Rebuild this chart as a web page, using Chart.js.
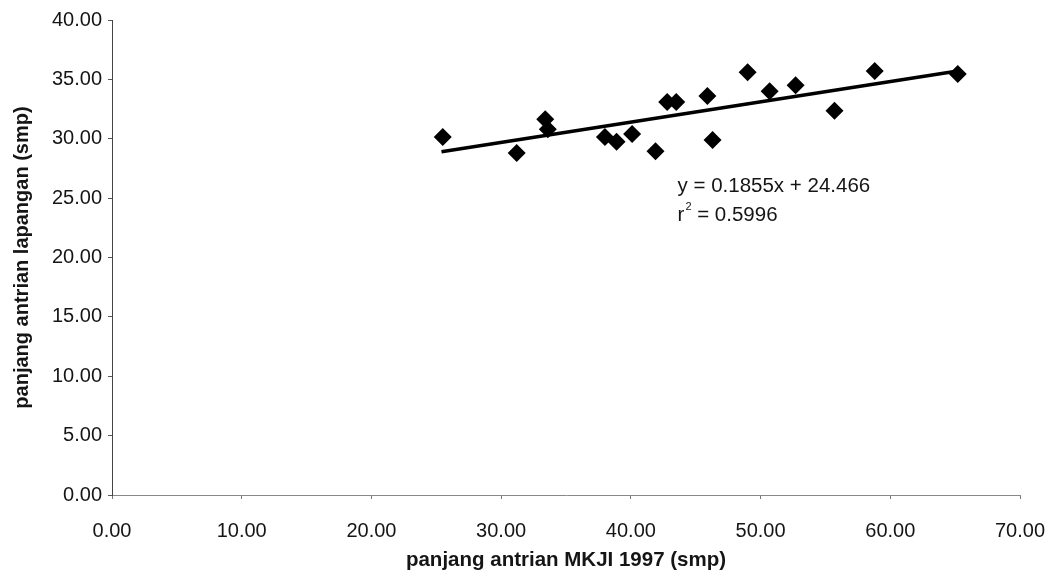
<!DOCTYPE html>
<html>
<head>
<meta charset="utf-8">
<script src="https://cdn.jsdelivr.net/npm/chart.js@4"></script>
<style>
  html, body { margin: 0; padding: 0; background: #fff; }
  #wrap { width: 1051px; height: 586px; }
</style>
</head>
<body>
<div id="wrap"><canvas id="chart" width="1051" height="586"></canvas></div>
<script>
// values
const mkjiX = [25.5, 31.2, 33.4, 33.6, 38.0, 38.9, 40.1, 41.9, 42.8, 43.5, 45.9, 46.3, 49.0, 50.7, 52.7, 55.7, 58.8, 65.2];
const lapanganY = [30.15, 28.8, 31.65, 30.8, 30.15, 29.75, 30.4, 28.95, 33.1, 33.1, 33.6, 29.9, 35.6, 34.0, 34.5, 32.35, 35.7, 35.45];

// trend line end points as drawn
const trendX = [25.4, 65.2];
const trendY = [28.9, 35.7];

const equation = 'y = 0.1855x + 24.466';
const rSquared = '0.5996';
const equationAt = [43.6, 26.0];

const FONT = "'Liberation Sans', Arial, sans-serif";

const scatterPoints = mkjiX.map((x, i) => ({ x: x, y: lapanganY[i] }));
const trendPoints = trendX.map((x, i) => ({ x: x, y: trendY[i] }));

const equationLabel = {
  id: 'equationLabel',
  afterDatasetsDraw(chart) {
    const ctx = chart.ctx;
    const xs = chart.scales.x, ys = chart.scales.y;
    const px = xs.getPixelForValue(equationAt[0]);
    const py = ys.getPixelForValue(equationAt[1]);
    ctx.save();
    ctx.fillStyle = '#151515';
    ctx.textBaseline = 'middle';
    ctx.textAlign = 'left';
    ctx.font = '20.5px ' + FONT;
    ctx.fillText(equation, px, py);
    const y2 = py + 29;
    ctx.fillText('r', px, y2);
    const rw = ctx.measureText('r').width;
    ctx.font = '11px ' + FONT;
    ctx.fillText('2', px + rw + 1, y2 - 8);
    const sw = ctx.measureText('2').width;
    ctx.font = '20.5px ' + FONT;
    ctx.fillText(' = ' + rSquared, px + rw + sw + 1, y2);
    ctx.restore();
  }
};

new Chart(document.getElementById('chart').getContext('2d'), {
  type: 'scatter',
  data: {
    datasets: [
      {
        label: 'data',
        data: scatterPoints,
        pointStyle: 'rectRot',
        pointRadius: 9,
        pointHoverRadius: 9,
        backgroundColor: '#000',
        borderColor: '#000',
        borderWidth: 0,
        order: 1
      },
      {
        label: 'trend',
        type: 'line',
        data: trendPoints,
        borderColor: '#000',
        borderWidth: 3.5,
        pointRadius: 0,
        fill: false,
        order: 2
      }
    ]
  },
  options: {
    responsive: false,
    animation: false,
    events: [],
    layout: { padding: { left: 0, top: 20, right: 31, bottom: 0 } },
    plugins: {
      legend: { display: false },
      tooltip: { enabled: false }
    },
    scales: {
      x: {
        type: 'linear',
        min: 0,
        max: 70,
        afterFit: scale => {
          scale.height = 91;
          scale.paddingRight = 0;
          scale.paddingLeft = 0;
        },
        grid: { drawOnChartArea: false, tickLength: 4, color: '#777' },
        border: { display: true, color: '#888', width: 1, dash: [2, 2] },
        ticks: {
          stepSize: 10,
          padding: 20,
          color: '#151515',
          font: { family: FONT, size: 20 },
          callback: v => v.toFixed(2)
        },
        title: {
          display: true,
          text: 'panjang antrian MKJI 1997 (smp)',
          color: '#151515',
          font: { family: FONT, size: 20.5, weight: 'bold' },
          padding: { top: 0, bottom: 13 }
        }
      },
      y: {
        min: 0,
        max: 40,
        afterFit: scale => { scale.width = 112; },
        grid: { drawOnChartArea: false, tickLength: 4, color: '#555' },
        border: { display: true, color: '#444', width: 1 },
        ticks: {
          stepSize: 5,
          padding: 6,
          color: '#151515',
          font: { family: FONT, size: 20 },
          callback: v => v.toFixed(2)
        },
        title: {
          display: true,
          text: 'panjang antrian lapangan (smp)',
          color: '#151515',
          font: { family: FONT, size: 20, weight: 'bold' },
          padding: { top: 10, bottom: 0 }
        }
      }
    }
  },
  plugins: [equationLabel]
});
</script>
</body>
</html>
